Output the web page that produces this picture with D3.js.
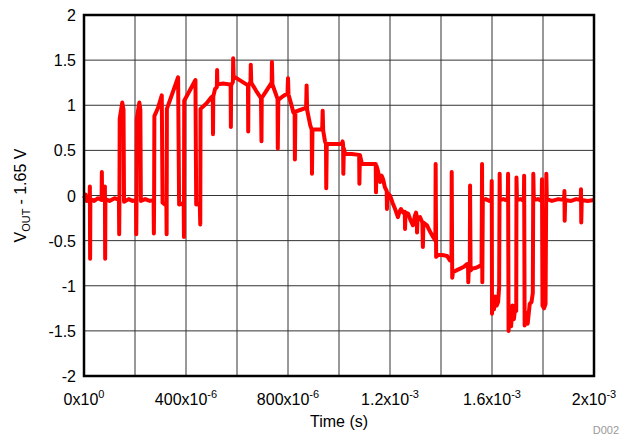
<!DOCTYPE html>
<html>
<head>
<meta charset="utf-8">
<script src="https://cdn.jsdelivr.net/npm/d3@7"></script>
<style>
  html, body { margin: 0; padding: 0; background: #fff; overflow: hidden; }
  svg { display: block; }
  text { font-family: "Liberation Sans", Arial, sans-serif; fill: #000; }
</style>
</head>
<body>
<svg id="chart" width="622" height="439"></svg>
<script>
// time in microseconds, value in volts (VOUT - 1.65 V)
const startBase = [
  [0, -0.03], [6, 0.01], [10, -0.06], [22, -0.04], [23, 0.10], [24, -0.70], [25, -0.04],
  [40, -0.06], [55, -0.03], [69, -0.05], [70, 0.26], [71, -0.04],
  [81, -0.05], [82, 0.10], [83, -0.70], [84, -0.04],
  [100, -0.06], [120, -0.03], [137, -0.05], [138, -0.43], [139, -0.05], [140, 0.85], [150, 1.03], [155, 0.95], [157, -0.07],
  [175, -0.04], [190, -0.06], [204, -0.05], [205, -0.43], [206, -0.05], [207, 0.85], [217, 1.03], [221, 0.95], [223, -0.06],
  [240, -0.04], [258, -0.06], [273, -0.05], [274, -0.42], [275, -0.05], [276, 0.88], [290, 0.97], [305, 1.11], [308, -0.08], [318, -0.10],
  [323, -0.09], [324, -0.43], [325, 0.96], [369, 1.31], [373, -0.10], [384, -0.09],
  [391, -0.11], [392, -0.46], [393, 1.05], [437, 1.28], [440, -0.10], [454, -0.09], [456, -0.32]
];

const topArc = [
  [457, 0.96], [480, 1.02], [500, 1.09], [505, 1.10], [506, 0.68], [507, 1.10], [514, 1.18], [521, 1.20], [522, 1.39], [523, 1.23],
  [545, 1.24], [572, 1.23], [575, 1.22], [576, 0.76], [577, 1.22], [584, 1.26], [585, 1.52], [587, 1.31], [592, 1.31],
  [615, 1.27], [643, 1.22], [644, 0.71], [645, 1.22], [653, 1.26], [654, 1.45], [656, 1.25], [675, 1.16], [694, 1.08],
  [696, 0.60], [697, 1.08], [715, 1.16], [736, 1.25], [737, 1.48], [739, 1.23], [759, 1.07], [760, 0.52], [762, 1.06],
  [780, 1.10], [798, 1.13], [800, 1.30], [802, 1.12], [812, 1.02], [821, 0.92], [826, 0.92], [827, 0.40], [829, 0.93],
  [850, 0.95], [871, 0.97], [873, 1.22], [875, 0.95], [887, 0.78], [893, 0.73], [894, 0.24], [896, 0.73], [915, 0.73],
  [934, 0.73], [936, 0.94], [938, 0.72], [945, 0.60], [949, 0.57], [950, 0.08], [952, 0.57], [980, 0.57], [1012, 0.57],
  [1014, 0.60], [1016, 0.57], [1017, 0.24], [1019, 0.52], [1024, 0.46], [1050, 0.46], [1079, 0.45], [1080, 0.13], [1082, 0.45],
  [1090, 0.35], [1115, 0.35], [1141, 0.35], [1144, 0.35], [1145, 0.035], [1147, 0.33]
];

const descent = [
  [1153, 0.27], [1161, 0.15], [1167, 0.22], [1173, 0.18], [1180, 0.09], [1187, 0.05], [1188, -0.15], [1190, 0.03],
  [1200, 0.0], [1210, -0.08], [1220, -0.15], [1231, -0.24], [1237, -0.18], [1243, -0.15], [1252, -0.19], [1258, -0.18],
  [1259, -0.37], [1261, -0.19], [1271, -0.20], [1280, -0.27], [1290, -0.33], [1298, -0.22], [1302, -0.19], [1305, -0.23],
  [1306, -0.41], [1308, -0.25], [1318, -0.24], [1327, -0.30], [1329, -0.57], [1331, -0.30], [1345, -0.33], [1357, -0.40],
  [1369, -0.46], [1378, -0.50], [1379, 0.35], [1381, -0.68], [1388, -0.66], [1405, -0.66], [1424, -0.67], [1435, -0.72],
  [1441, -0.72], [1442, 0.26], [1444, -0.91], [1447, -0.85], [1460, -0.83], [1475, -0.81], [1490, -0.79], [1502, -0.76],
  [1506, -0.78], [1507, -0.96], [1509, -0.80], [1513, -0.80], [1514, 0.11], [1516, -0.83], [1522, -0.81], [1538, -0.80],
  [1553, -0.78], [1559, -0.76], [1561, 0.35], [1562, -0.96], [1564, -0.05]
];

const negPulses = [
  [1575, -0.04], [1590, -0.06], [1598, -0.05], [1599, 0.16], [1600, -1.31], [1604, -1.15], [1608, -1.26], [1612, -1.12],
  [1618, -1.22], [1624, -1.18], [1628, -1.02], [1630, 0.24], [1631, -0.05], [1645, -0.04], [1662, -0.06], [1663, 0.24],
  [1665, -1.50], [1670, -1.30], [1675, -1.45], [1680, -1.22], [1686, -1.37], [1692, -1.22], [1695, -1.28], [1696, 0.20],
  [1698, -0.05], [1712, -0.04], [1725, -0.06], [1726, 0.22], [1728, -1.44], [1734, -1.30], [1740, -1.42], [1748, -1.20],
  [1755, -1.18], [1760, -1.08], [1762, 0.24], [1764, -0.05], [1780, -0.04], [1795, -0.06], [1796, 0.18], [1798, -1.22],
  [1804, -1.25], [1810, -1.20], [1813, 0.24], [1815, -0.04], [1835, -0.06], [1860, -0.04], [1883, -0.05], [1884, 0.05],
  [1885, -0.28], [1887, -0.05], [1910, -0.06], [1930, -0.04], [1948, -0.05], [1949, 0.07], [1950, -0.30], [1952, -0.05],
  [1975, -0.06], [2000, -0.05]
];

const yTicks = [-2, -1.5, -1, -0.5, 0, 0.5, 1, 1.5, 2];
const xGrid = [0, 200, 400, 600, 800, 1000, 1200, 1400, 1600, 1800, 2000];
const xTicks = [0, 400, 800, 1200, 1600, 2000];
const xTickMantissa = ["0", "400", "800", "1.2", "1.6", "2"];
const xTickExponent = ["0", "-6", "-6", "-3", "-3", "-3"];

const trace = startBase.concat(topArc, descent, negPulses);

const svg = d3.select("#chart");
const width = +svg.attr("width");
const height = +svg.attr("height");
const margin = { top: 15, right: 28, bottom: 63, left: 84 };
const innerWidth = width - margin.left - margin.right;
const innerHeight = height - margin.top - margin.bottom;

const x = d3.scaleLinear().domain([0, 2000]).range([margin.left, margin.left + innerWidth]);
const y = d3.scaleLinear().domain([-2, 2]).range([margin.top + innerHeight, margin.top]);

// grid
svg.append("g")
    .selectAll("line")
    .data(xGrid)
    .enter()
    .append("line")
    .attr("x1", d => x(d)).attr("x2", d => x(d))
    .attr("y1", y(-2)).attr("y2", y(2))
    .attr("stroke", "#333")
    .attr("stroke-width", 1);

svg.append("g")
    .selectAll("line")
    .data(yTicks)
    .enter()
    .append("line")
    .attr("x1", x(0)).attr("x2", x(2000))
    .attr("y1", d => y(d)).attr("y2", d => y(d))
    .attr("stroke", "#333")
    .attr("stroke-width", 1);

// trace
const line = d3.line()
    .x(d => x(d[0]))
    .y(d => y(d[1]));

svg.append("path")
    .datum(trace)
    .attr("fill", "none")
    .attr("stroke", "#ff0000")
    .attr("stroke-width", 4)
    .attr("stroke-linejoin", "round")
    .attr("d", line);

// frame
svg.append("rect")
    .attr("x", x(0))
    .attr("y", y(2))
    .attr("width", x(2000) - x(0))
    .attr("height", y(-2) - y(2))
    .attr("fill", "none")
    .attr("stroke", "#000")
    .attr("stroke-width", 2.5);

// y tick labels
svg.append("g")
    .selectAll("text")
    .data(yTicks)
    .enter()
    .append("text")
    .attr("x", x(0) - 8)
    .attr("y", d => y(d) + 6)
    .attr("text-anchor", "end")
    .style("font-size", "16px")
    .text(d => d);

// x tick labels: mantissa + superscript exponent as separate texts
const xLabels = svg.append("g");
xTicks.forEach((t, i) => {
    const main = xLabels.append("text")
        .attr("y", 405)
        .style("font-size", "16px")
        .text(xTickMantissa[i] + "x10");
    const sup = xLabels.append("text")
        .attr("y", 398)
        .style("font-size", "11px")
        .text(xTickExponent[i]);
    const w1 = main.node().getComputedTextLength();
    const w2 = sup.node().getComputedTextLength();
    const start = x(t) - (w1 + w2) / 2;
    main.attr("x", start);
    sup.attr("x", start + w1);
});

// axis titles
svg.append("text")
    .attr("x", x(1000))
    .attr("y", 427)
    .attr("text-anchor", "middle")
    .style("font-size", "16px")
    .text("Time (s)");

const yTitle = svg.append("g")
    .attr("transform", `translate(26,${y(0)}) rotate(-90)`);
const p1 = yTitle.append("text").style("font-size", "16px").text("V");
const p2 = yTitle.append("text").style("font-size", "11px").text("OUT");
const p3 = yTitle.append("text").style("font-size", "16px").text("- 1.65 V");
const w1 = p1.node().getComputedTextLength();
const w2 = p2.node().getComputedTextLength();
const w3 = p3.node().getComputedTextLength();
const gap = 4;
const s = -(w1 + w2 + gap + w3) / 2;
p1.attr("x", s).attr("y", 0);
p2.attr("x", s + w1).attr("y", 4);
p3.attr("x", s + w1 + w2 + gap).attr("y", 0);

svg.append("text")
    .attr("x", 619)
    .attr("y", 434)
    .attr("text-anchor", "end")
    .style("font-size", "11px")
    .style("fill", "#999")
    .text("D002");
</script>
</body>
</html>
